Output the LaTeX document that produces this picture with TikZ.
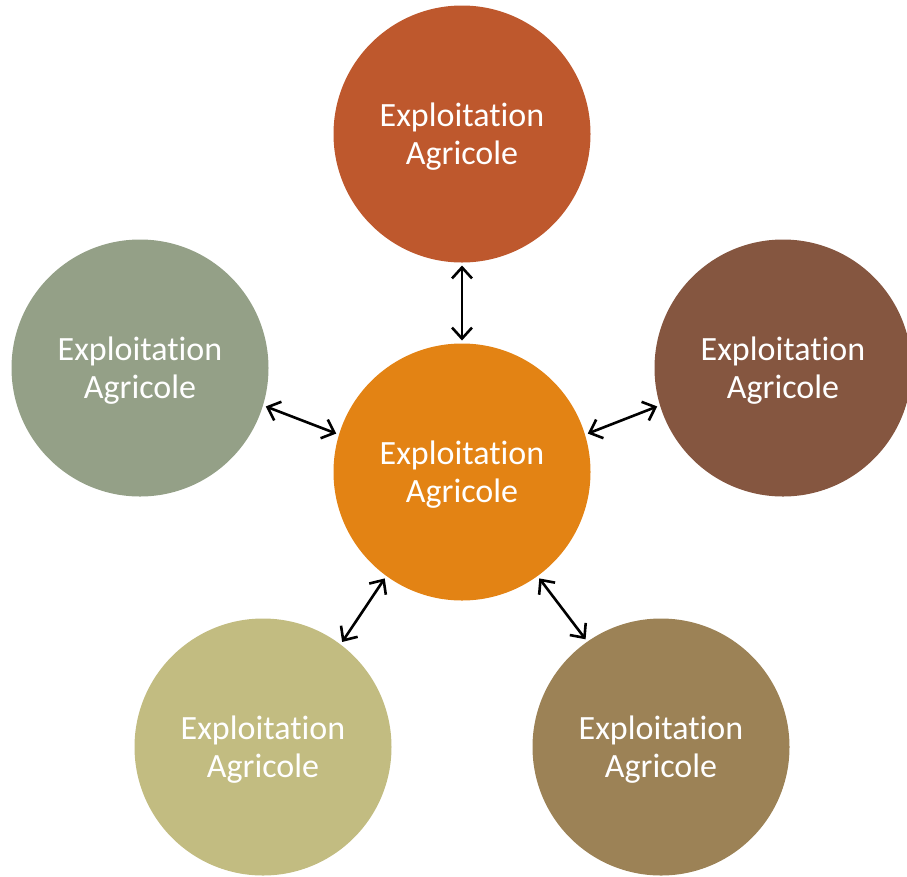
\documentclass[tikz,border=0pt]{standalone}
\usepackage{fontspec}
\setmainfont{Carlito}[Ligatures=NoCommon, RawFeature={-liga;-clig;-calt;-dlig}]
\usetikzlibrary{arrows.meta}
\definecolor{farmhub}{HTML}{E38314}
\definecolor{farmtop}{HTML}{BE582D}
\definecolor{farmright}{HTML}{855640}
\definecolor{farmleft}{HTML}{94A087}
\definecolor{farmbl}{HTML}{C2BC81}
\definecolor{farmbr}{HTML}{9C8256}
\begin{document}
\begin{tikzpicture}[x=1pt, y=-1pt,
		farm/.style={circle, minimum size=257pt, inner sep=0pt, outer sep=3pt, text=white, align=center,
			font=\fontsize{34}{38}\selectfont, text depth=0pt},
		every edge/.style={draw, {Straight Barb[length=11pt,width=20pt]}-{Straight Barb[length=11pt,width=20pt]}, line width=2.6pt}]
		\useasboundingbox (0,0) rectangle (907,876);

		% Nodes
		\node[farm, fill=farmhub] (hub) at (462,472) {Exploitation\\Agricole};
		\node[farm, fill=farmtop] (top) at (462,134) {Exploitation\\Agricole};
		\node[farm, fill=farmleft] (left) at (140,368) {Exploitation\\Agricole};
		\node[farm, fill=farmright] (right) at (783,368) {Exploitation\\Agricole};
		\node[farm, fill=farmbl] (bl) at (263,747) {Exploitation\\Agricole};
		\node[farm, fill=farmbr] (br) at (661,747) {Exploitation\\Agricole};

		% Edges
		\draw (top.-90) edge (hub.90);
		\draw (left.-17.6) edge (hub.163.8);
		\draw (hub.17.2) edge (right.197.6);
		\draw (hub.234.9) edge (bl.53.9);
		\draw (hub.-54.2) edge (br.125.7);
	\end{tikzpicture}
\end{document}
